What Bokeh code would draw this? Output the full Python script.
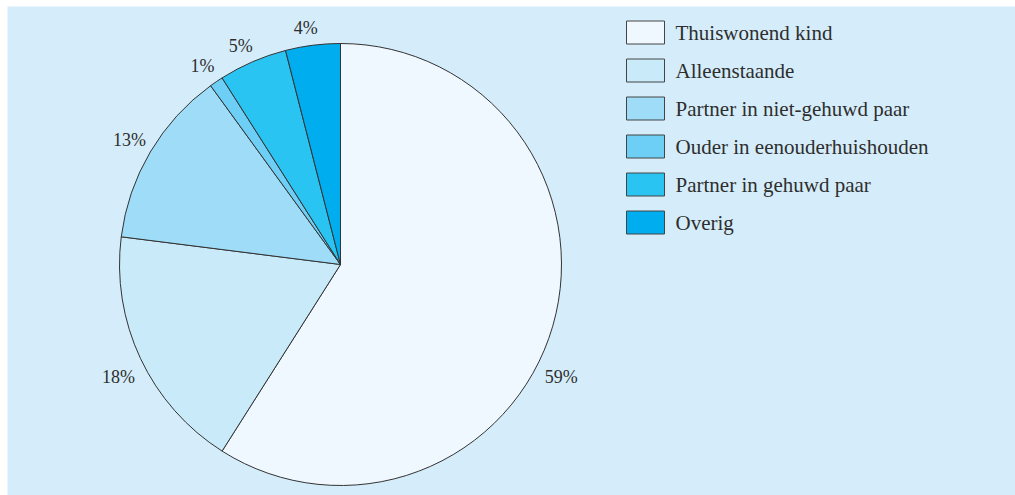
import math
from bokeh.plotting import figure
from bokeh.models import Range1d, ColumnDataSource
from bokeh.core.properties import value
from bokeh.embed import file_html
from bokeh.resources import INLINE

categories = ["Thuiswonend kind", "Alleenstaande", "Partner in niet-gehuwd paar",
              "Ouder in eenouderhuishouden", "Partner in gehuwd paar", "Overig"]
shares = [59, 18, 13, 1, 5, 4]
labels = ["59%", "18%", "13%", "1%", "5%", "4%"]
colors = ["#eff8fe", "#c8eaf9", "#9edcf7", "#6dcff5", "#2ac4f3", "#00aeef"]

W, H = 1015, 495
LEFT, TOP = 7, 6
FONT = "Liberation Serif"
TXT = "#2e2e2e"

p = figure(width=W, height=H, output_backend="svg", toolbar_location=None,
           x_range=Range1d(LEFT, W), y_range=Range1d(0, H - TOP),
           min_border_left=LEFT, min_border_right=0,
           min_border_top=TOP, min_border_bottom=0)
p.axis.visible = False
p.grid.visible = False
p.outline_line_color = None
p.background_fill_color = "#d5edfa"
p.border_fill_color = "#ffffff"

def Y(page_y):
    return H - page_y

cx, cy, r = 340, Y(264), 221
total = sum(shares)
starts, ends, mids = [], [], []
acc = 0.0
for s in shares:
    a0 = math.pi / 2 - 2 * math.pi * acc / total
    acc += s
    a1 = math.pi / 2 - 2 * math.pi * acc / total
    starts.append(a0)
    ends.append(a1)
    mids.append((a0 + a1) / 2)

src = ColumnDataSource(dict(start=starts, end=ends, color=colors, cat=categories))
p.wedge(x=cx, y=cy, radius=r, start_angle="start", end_angle="end",
        direction="clock", fill_color="color", line_color="#333333",
        line_width=1, source=src)

# percentage labels
shift = [-0.19, 0.03, 0, 0.01, 0.02, 0.02]
lr = [248, 249, 245, 242, 240, 239]
lx = [cx + lr[i] * math.cos(mids[i] + shift[i]) for i in range(len(shares))]
ly = [cy + lr[i] * math.sin(mids[i] + shift[i]) for i in range(len(shares))]
p.text(x=lx, y=ly, text=labels, text_align="center", text_baseline="middle",
       text_font=value(FONT), text_font_size="18px", text_color=TXT)

# legend
n = len(categories)
ly0 = [Y(32 + 38 * i) for i in range(n)]
p.rect(x=[645] * n, y=ly0, width=38, height=23, fill_color=colors,
       line_color="#444444", line_width=1)
p.text(x=[675] * n, y=ly0, text=categories, text_align="left",
       text_baseline="middle", text_font=value(FONT), text_font_size="21px",
       text_color=TXT)

open("out.html", "w").write(file_html(p, INLINE))
